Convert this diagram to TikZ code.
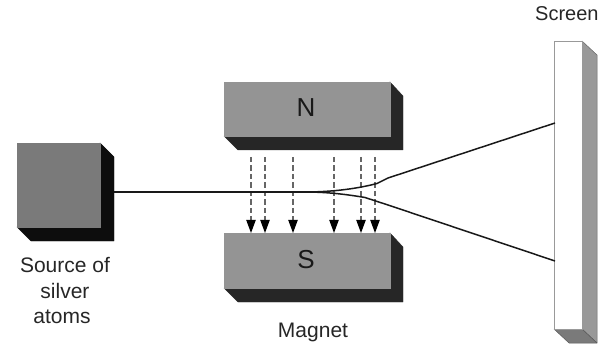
\documentclass[tikz,border=0pt]{standalone}
\usepackage{fontspec}
\setmainfont{Liberation Sans}
\usetikzlibrary{arrows.meta}
\tikzset{
  front/.style={fill=#1,draw=#1,line width=0.6pt},
  depth/.style={fill=#1,draw=#1,line width=0.4pt,line join=round},
  label/.style={font=\fontsize{21}{25}\selectfont,text=black!85,anchor=base},
  pole/.style={font=\fontsize{26}{30}\selectfont,text=black!90},
  field/.style={draw=black!60,line width=1.4pt,dash pattern=on 5.5pt off 3pt},
  fieldtip/.style={draw=none,fill=black},
  beam/.style={draw=black!90,line width=1.5pt,line join=round}
}
\begin{document}
\begin{tikzpicture}[x=1pt,y=-1pt]
\useasboundingbox (0,0) rectangle (615,347);
% source
\filldraw[depth=black!95] (100,143) -- (114,157) -- (114,241) -- (31,241) -- (17,227) -- cycle;
\filldraw[front=black!52] (17,143) rectangle (100,227);
% magnets
\filldraw[depth=black!85] (390,82) -- (403,96) -- (403,150) -- (238,150) -- (224,136) -- cycle;
\filldraw[front=black!42] (224,82) rectangle (390,136);
\filldraw[depth=black!85] (390,233) -- (403,247) -- (403,302) -- (238,302) -- (224,288) -- cycle;
\filldraw[front=black!42] (224,233) rectangle (390,288);
\node[pole] (n) at (306,108) {N};
\node[pole] (s) at (306,260) {S};
% screen
\filldraw[fill=black!40,draw=black!60,line width=0.5pt,line join=round] (582,41) -- (597,55) -- (597,343) -- (582,329) -- cycle;
\filldraw[fill=black!52,draw=black!65,line width=0.5pt,line join=round] (554,329) -- (582,329) -- (597,343) -- (569,343) -- cycle;
\filldraw[fill=white,draw=black!40,line width=0.7pt] (554,41) rectangle (582,329);
% field lines
\foreach \x in {251,265,293,334,361,375}{
  \coordinate (a\x) at (\x,157);
  \coordinate (b\x) at (\x,221);
  \coordinate (c\x) at (\x,233);
  \draw[field] (a\x) -- (b\x);
  \fill[fieldtip] (\x-4.8,220) -- (\x+4.8,220) -- (c\x) -- cycle;
}
% beam
\coordinate (o) at (114,192);
\coordinate (m) at (305,192);
\coordinate (ua) at (377,183.5);
\coordinate (ub) at (388,178);
\coordinate (ut) at (555,123);
\coordinate (la) at (365,197.5);
\coordinate (lb) at (388,205);
\coordinate (lt) at (555,261);
\draw[beam] (o) -- (m);
\draw[beam] (m) .. controls (335,192) and (360,188) .. (ua) -- (ub) -- (ut);
\draw[beam] (m) .. controls (330,192) and (350,195) .. (la) -- (lb) -- (lt);
% labels
\node[label] (src1) at (65,272.5) {Source of};
\node[label] (src2) at (65,298.5) {silver};
\node[label] (src3) at (62,323.5) {atoms};
\node[label] (mag) at (313,337) {Magnet};
\begin{scope}
\clip (520,0) rectangle (600.5,40);
\node[label,anchor=base west,font=\fontsize{20}{24}\selectfont,inner sep=0pt] (scr) at (535,21) {Screen};
\end{scope}
\end{tikzpicture}
\end{document}
